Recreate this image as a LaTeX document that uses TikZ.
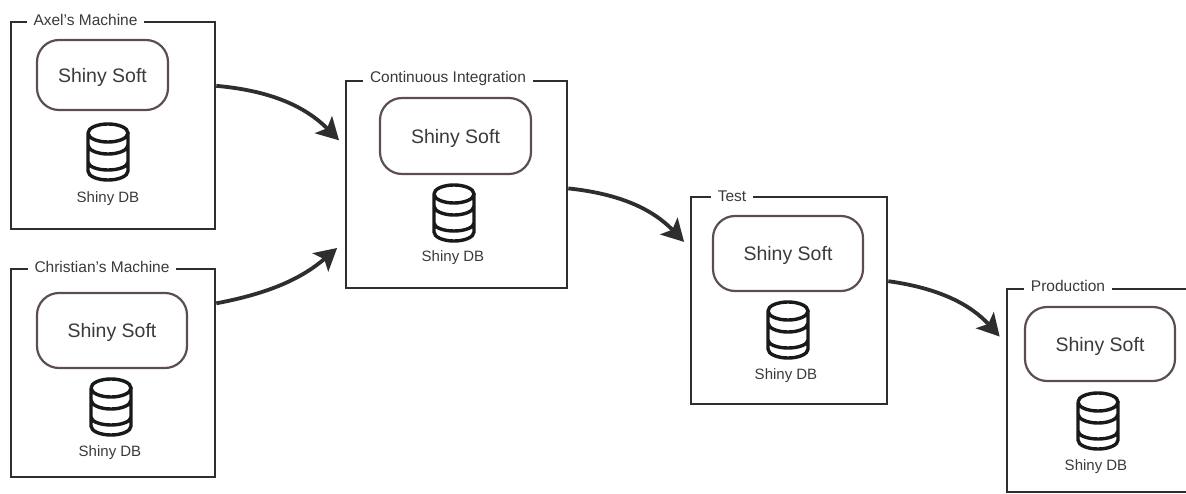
\documentclass[tikz,border=0pt]{standalone}
\usepackage{fontspec}
\setmainfont{Liberation Sans}
\usetikzlibrary{arrows.meta, positioning}

\definecolor{framecol}{HTML}{2E2E30}
\definecolor{softcol}{HTML}{5C4E4E}
\definecolor{textcol}{HTML}{3A3A3A}

\begin{document}
\begin{tikzpicture}[
  x=1pt, y=-1pt,
  frame/.style={draw=framecol, line width=2.6pt, rectangle, inner sep=0pt},
  title/.style={fill=white, text=textcol, inner xsep=7pt, inner ysep=1pt, font=\fontsize{15.5}{17}\selectfont},
  soft/.style={draw=softcol, line width=2.2pt, rectangle, rounded corners=22pt, inner sep=0pt, text=textcol, text depth=0pt, font=\fontsize{19.5}{22}\selectfont},
  dblabel/.style={text=textcol, inner sep=0pt, font=\fontsize{15}{18}\selectfont},
  arrow/.style={-{Stealth[length=22pt, width=24pt, inset=5pt]}, line width=3.8pt, color=framecol},
  shinydb/.pic={
    \draw[line width=3.4pt, black!90]
      (-20,-19) -- (-20,19) arc[start angle=180, end angle=360, x radius=20, y radius=-9] -- (20,-19)
      (-20,-19) arc[start angle=180, end angle=540, x radius=20, y radius=9]
      (-20,-7) arc[start angle=180, end angle=360, x radius=20, y radius=-9]
      (-20,10) arc[start angle=180, end angle=360, x radius=20, y radius=-8];
  }
]
\useasboundingbox (0,0) rectangle (1186,494);

% Axel's machine
\node[frame, minimum width=204pt, minimum height=207pt] (axel) at (113,125.5) {};
\node[title] (axeltitle) at (85.5,20) {Axel's Machine};
\node[soft, minimum width=131pt, minimum height=70pt] (axelsoft) at (102.5,75) {Shiny Soft};
\pic at (108,152) {shinydb};
\node[dblabel] (axeldb) at (108,199) {Shiny DB};

% Christian's machine
\node[frame, minimum width=204pt, minimum height=208pt] (christian) at (113,373) {};
\node[title] (christiantitle) at (102,267) {Christian's Machine};
\node[soft, minimum width=150pt, minimum height=75pt] (christiansoft) at (112,330.5) {Shiny Soft};
\pic at (111,407) {shinydb};
\node[dblabel] (christiandb) at (110,453) {Shiny DB};

% Continuous integration
\node[frame, minimum width=221pt, minimum height=207pt] (ci) at (456.5,184.5) {};
\node[title] (cititle) at (448,78) {Continuous Integration};
\node[soft, minimum width=151pt, minimum height=76pt] (cisoft) at (455.5,136) {Shiny Soft};
\pic at (454,213) {shinydb};
\node[dblabel] (cidb) at (453,258) {Shiny DB};

% Test
\node[frame, minimum width=196pt, minimum height=207pt] (test) at (789,300.5) {};
\node[title] (testtitle) at (732,196) {Test};
\node[soft, minimum width=150pt, minimum height=75pt] (testsoft) at (788,253.5) {Shiny Soft};
\pic at (788,330) {shinydb};
\node[dblabel] (testdb) at (786,376) {Shiny DB};

% Production
\node[frame, minimum width=183pt, minimum height=203pt] (prod) at (1098.5,390.5) {};
\node[title] (prodtitle) at (1068,286) {Production};
\node[soft, minimum width=150pt, minimum height=74pt] (prodsoft) at (1100,344) {Shiny Soft};
\pic at (1098,421) {shinydb};
\node[dblabel] (proddb) at (1096,467) {Shiny DB};

% Arrows between frames
\draw[arrow, bend left=20, shorten >=8pt] (axel.21) to (ci.161.7);
\draw[arrow, bend right=15, shorten >=10pt] (christian.34.6) to (ci.207.9);
\draw[arrow, bend left=20, shorten >=8pt] (ci.-2.3) to (test.152.7);
\draw[arrow, bend left=20, shorten >=9pt] (test.11.8) to (prod.153.6);

\end{tikzpicture}
\end{document}
